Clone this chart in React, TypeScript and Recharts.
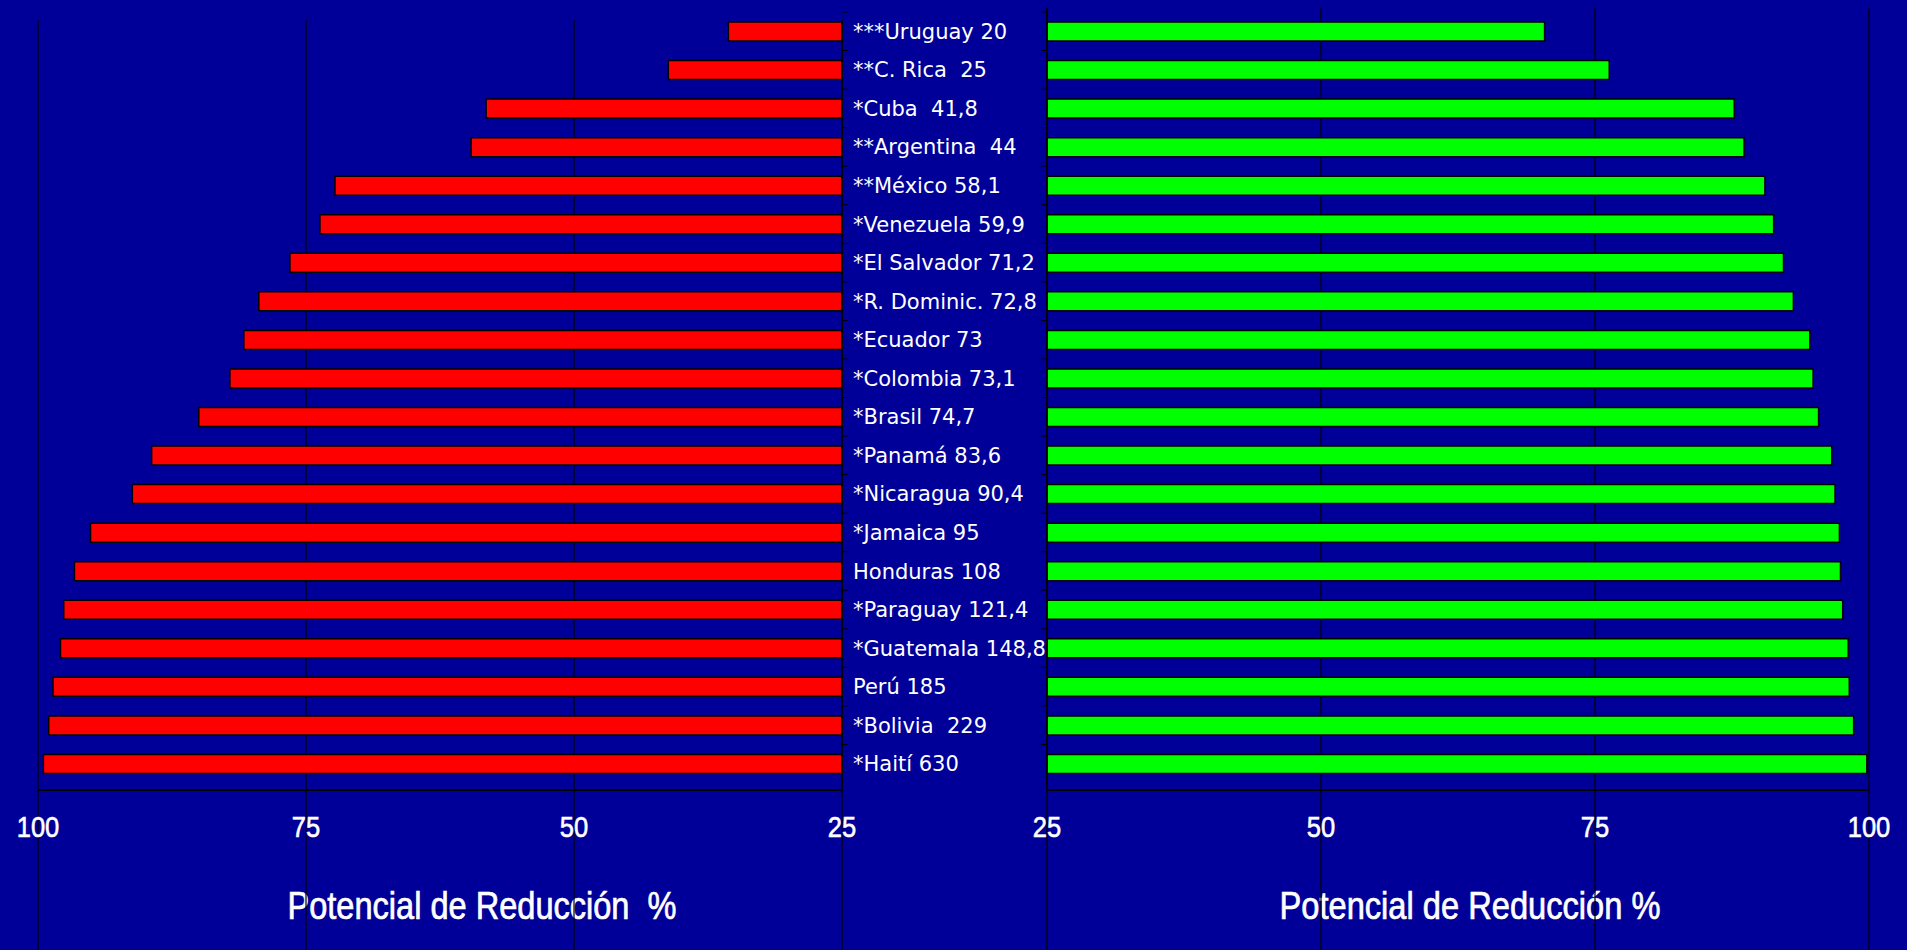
import { Bar, BarChart, CartesianGrid, Label, XAxis, YAxis } from "recharts";

// Country labels (top to bottom), as printed in the middle column
const countries = [
  "***Uruguay 20",
  "**C. Rica  25",
  "*Cuba  41,8",
  "**Argentina  44",
  "**México 58,1",
  "*Venezuela 59,9",
  "*El Salvador 71,2",
  "*R. Dominic. 72,8",
  "*Ecuador 73",
  "*Colombia 73,1",
  "*Brasil 74,7",
  "*Panamá 83,6",
  "*Nicaragua 90,4",
  "*Jamaica 95",
  "Honduras 108",
  "*Paraguay 121,4",
  "*Guatemala 148,8",
  "Perú 185",
  "*Bolivia  229",
  "*Haití 630",
];

// Red bars (left panel, axis runs 100 -> 25)
const leftValues = [
  35.6, 41.2, 58.2, 59.6, 72.3, 73.7, 76.5, 79.4, 80.8, 82.1, 85.0, 89.4, 91.2,
  95.1, 96.6, 97.6, 97.9, 98.6, 99.0, 99.5,
];

// Green bars (right panel, axis runs 25 -> 100)
const rightValues = [
  70.4, 76.3, 87.7, 88.6, 90.5, 91.3, 92.2, 93.1, 94.6, 94.9, 95.4, 96.6, 96.9,
  97.3, 97.4, 97.6, 98.1, 98.2, 98.6, 99.8,
];

const axisTicks = [25, 50, 75, 100];
const leftTitle = "Potencial de Reducción  %";
const rightTitle = "Potencial de Reducción %";

const data = countries.map((name, i) => ({
  name,
  left: leftValues[i],
  right: rightValues[i],
}));

const BG = "#000099";
// the original uses a narrow face; squeeze Liberation Sans to the same widths
const AXIS_FONT = "'Liberation Sans', Arial, sans-serif";
const LABEL_FONT = "'DejaVu Sans', sans-serif";

/** Bottom tick: the value plus the gridline carried down to the page edge. */
function BottomTick(props: any) {
  const { x, y, payload } = props;
  const txt = String(payload.value);
  return (
    <g>
      <line x1={x} x2={x} y1={y} y2={y + 170} stroke="#000" strokeWidth={1.2} />
      <text
        x={x}
        y={y + 47}
        textAnchor="middle"
        fill="#fff"
        stroke="#fff"
        strokeWidth={0.6}
        fontSize={30}
        fontFamily={AXIS_FONT}
        textLength={txt.length * 14.2}
        lengthAdjust="spacingAndGlyphs"
      >
        {txt}
      </text>
    </g>
  );
}

/** Country name to the right of the red panel, with a short tick between rows. */
function CountryTick(props: any) {
  const { x, y, payload } = props;
  const half = payload?.offset ?? 19;
  return (
    <g>
      <line x1={x - 11} x2={x - 5} y1={y - half} y2={y - half} stroke="#000" />
      <text
        x={x}
        y={y}
        dy="0.36em"
        textAnchor="start"
        fill="#fff"
        fontSize={21}
        fontFamily={LABEL_FONT}
        style={{ whiteSpace: "pre" }}
      >
        {payload.value}
      </text>
    </g>
  );
}

function RowTick(props: any) {
  const { x, y, payload } = props;
  const half = payload?.offset ?? 19;
  return <line x1={x - 6} x2={x} y1={y - half} y2={y - half} stroke="#000" />;
}

function axisTitle(text: string, dx: number, length: number) {
  return (props: any) => {
    const vb = props.viewBox;
    return (
      <text
        x={vb.x + vb.width / 2 + dx}
        y={vb.y + vb.height - 31}
        textAnchor="middle"
        fill="#fff"
        stroke="#fff"
        strokeWidth={0.7}
        fontSize={38}
        fontFamily={AXIS_FONT}
        textLength={length}
        lengthAdjust="spacingAndGlyphs"
        style={{ whiteSpace: "pre" }}
      >
        {text}
      </text>
    );
  };
}

export default function App() {
  return (
    <div style={{ position: "relative", width: 1907, height: 950, background: BG, overflow: "hidden" }}>
      <style>{`body{margin:0;background:${BG};}`}</style>

      <div style={{ position: "absolute", left: 0, top: 0 }}>
        <BarChart
          width={1047}
          height={950}
          data={data}
          layout="vertical"
          margin={{ top: 20, right: 0, left: 38, bottom: 0 }}
          barCategoryGap={0}
        >
          <CartesianGrid horizontal={false} stroke="#000" strokeWidth={1.2} />
          <XAxis
            type="number"
            domain={[25, 100]}
            ticks={axisTicks}
            reversed
            interval={0}
            height={160}
            tickSize={0}
            tickMargin={0}
            tickLine={false}
            tick={<BottomTick />}
            axisLine={{ stroke: "#000", strokeWidth: 2 }}
          >
            <Label content={axisTitle(leftTitle, 42, 389)} />
          </XAxis>
          <YAxis
            type="category"
            dataKey="name"
            orientation="right"
            width={205}
            interval={0}
            padding={{ top: -8, bottom: 7 }}
            tickSize={0}
            tickMargin={11}
            tickLine={false}
            tick={<CountryTick />}
            axisLine={{ stroke: "#000", strokeWidth: 1.5 }}
          />
          <Bar
            dataKey="left"
            fill="#FF0000"
            stroke="#000"
            strokeWidth={1.5}
            barSize={19}
            isAnimationActive={false}
          />
        </BarChart>
      </div>

      <div style={{ position: "absolute", left: 1000, top: 0 }}>
        <BarChart
          width={907}
          height={950}
          data={data}
          layout="vertical"
          margin={{ top: 8, right: 38, left: 37, bottom: 0 }}
          barCategoryGap={0}
        >
          <CartesianGrid horizontal={false} stroke="#000" strokeWidth={1.2} />
          <XAxis
            type="number"
            domain={[25, 100]}
            ticks={axisTicks}
            interval={0}
            height={160}
            tickSize={0}
            tickMargin={0}
            tickLine={false}
            tick={<BottomTick />}
            axisLine={{ stroke: "#000", strokeWidth: 2 }}
          >
            <Label content={axisTitle(rightTitle, 12, 381)} />
          </XAxis>
          <YAxis
            type="category"
            dataKey="name"
            orientation="left"
            width={10}
            interval={0}
            padding={{ top: 4, bottom: 7 }}
            tickSize={0}
            tickMargin={0}
            tickLine={false}
            tick={<RowTick />}
            axisLine={{ stroke: "#000", strokeWidth: 1.5 }}
          />
          <Bar
            dataKey="right"
            fill="#00FF00"
            stroke="#000"
            strokeWidth={1.5}
            barSize={19}
            isAnimationActive={false}
          />
        </BarChart>
      </div>
    </div>
  );
}
